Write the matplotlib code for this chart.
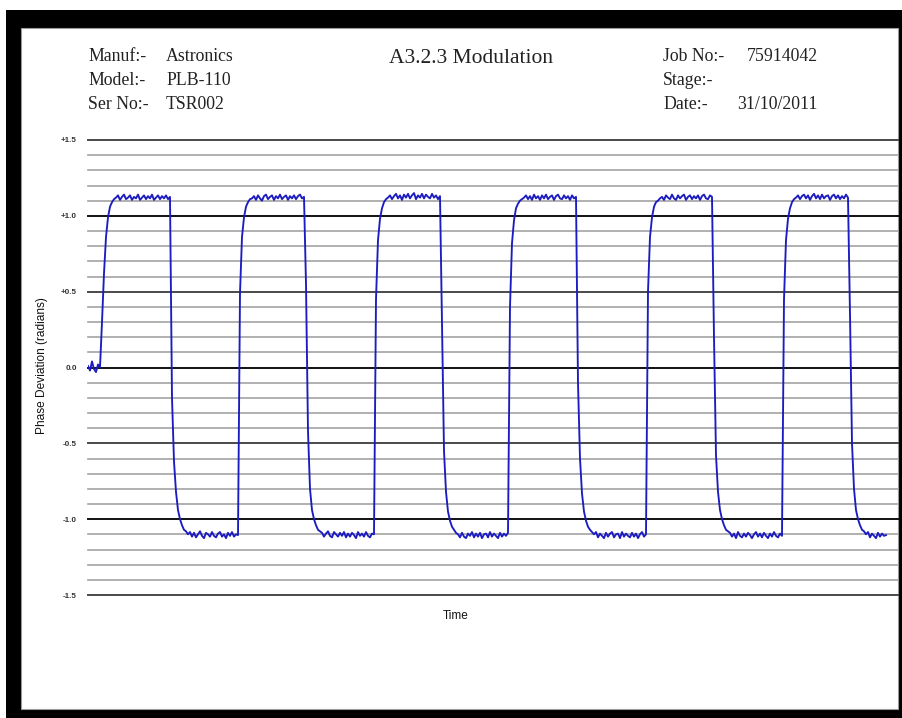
import numpy as np
import matplotlib
matplotlib.use("Agg")
import matplotlib.pyplot as plt
from matplotlib.patches import Rectangle

# ---------------------------------------------------------------------------
# Recorded phase deviation (radians), one value every 2 time units.
# ---------------------------------------------------------------------------
sample_spacing = 2.0

baseline = [0.01, -0.02, 0.04, -0.01, -0.03, 0.02, 0.00]

high_1 = [0.30, 0.62, 0.86, 0.99, 1.06, 1.09, 1.11,
          1.12, 1.135, 1.105, 1.125, 1.14, 1.11, 1.12, 1.135, 1.105, 1.125,
          1.115, 1.14, 1.105, 1.12, 1.135, 1.11, 1.13, 1.115, 1.14, 1.105,
          1.12, 1.135, 1.11, 1.13, 1.115, 1.135, 1.11, 1.125]
low_1 = [-0.20, -0.62, -0.82, -0.94, -1.00, -1.04, -1.07, -1.08,
         -1.10, -1.085, -1.115, -1.09, -1.12, -1.10, -1.08, -1.11, -1.125, -1.09,
         -1.10, -1.115, -1.085, -1.11, -1.12, -1.095, -1.085, -1.115, -1.10, -1.125,
         -1.09, -1.11, -1.085, -1.115, -1.10, -1.105]

high_2 = [0.49, 0.86, 0.99, 1.06, 1.09, 1.11, 1.115,
          1.13, 1.105, 1.135, 1.115, 1.10, 1.13, 1.14, 1.11, 1.125, 1.135,
          1.105, 1.13, 1.115, 1.14, 1.11, 1.125, 1.135, 1.105, 1.13, 1.115,
          1.135, 1.11, 1.13, 1.14, 1.115, 1.125]
low_2 = [0.55, -0.42, -0.80, -0.94, -1.00, -1.04, -1.07, -1.08,
         -1.09, -1.115, -1.095, -1.08, -1.11, -1.12, -1.085, -1.10, -1.115, -1.09,
         -1.11, -1.085, -1.12, -1.095, -1.115, -1.09, -1.105, -1.125, -1.085, -1.11,
         -1.095, -1.115, -1.085, -1.11, -1.12, -1.095, -1.10]

high_3 = [0.45, 0.84, 0.98, 1.05, 1.09, 1.11, 1.12,
          1.135, 1.11, 1.13, 1.145, 1.115, 1.135, 1.105, 1.14, 1.12, 1.145,
          1.115, 1.135, 1.15, 1.11, 1.135, 1.12, 1.145, 1.115, 1.14, 1.125,
          1.115, 1.145, 1.12, 1.135, 1.11, 1.13]
low_3 = [0.30, -0.55, -0.82, -0.95, -1.01, -1.05, -1.07, -1.09,
         -1.10, -1.12, -1.09, -1.115, -1.125, -1.095, -1.11, -1.085, -1.12, -1.095,
         -1.115, -1.09, -1.125, -1.10, -1.095, -1.12, -1.085, -1.115, -1.095, -1.11,
         -1.125, -1.09, -1.115, -1.095, -1.11, -1.09]

high_4 = [0.40, 0.82, 0.97, 1.05, 1.08, 1.10, 1.11,
          1.12, 1.135, 1.11, 1.13, 1.105, 1.14, 1.115, 1.13, 1.105, 1.135,
          1.115, 1.14, 1.11, 1.125, 1.135, 1.105, 1.13, 1.14, 1.115, 1.11,
          1.135, 1.115, 1.13, 1.105, 1.135, 1.115, 1.125]
low_4 = [-0.10, -0.60, -0.83, -0.95, -1.01, -1.05, -1.07, -1.085,
         -1.10, -1.085, -1.12, -1.095, -1.11, -1.125, -1.09, -1.115, -1.095, -1.085,
         -1.12, -1.10, -1.095, -1.125, -1.085, -1.115, -1.095, -1.11, -1.12, -1.09,
         -1.115, -1.095, -1.125, -1.10, -1.085, -1.115, -1.10]

high_5 = [0.50, 0.86, 0.99, 1.06, 1.09, 1.10, 1.115,
          1.125, 1.105, 1.135, 1.12, 1.11, 1.14, 1.115, 1.105, 1.135, 1.115,
          1.13, 1.14, 1.105, 1.125, 1.135, 1.11, 1.13, 1.115, 1.135, 1.105,
          1.13, 1.14, 1.115, 1.11, 1.135, 1.125]
low_5 = [0.20, -0.58, -0.82, -0.94, -1.00, -1.04, -1.07, -1.08,
         -1.09, -1.115, -1.095, -1.125, -1.085, -1.11, -1.12, -1.095, -1.115, -1.09,
         -1.105, -1.125, -1.10, -1.085, -1.115, -1.095, -1.12, -1.09, -1.11, -1.125,
         -1.095, -1.115, -1.085, -1.11, -1.12, -1.095, -1.11]

high_6 = [0.45, 0.84, 0.98, 1.05, 1.09, 1.11, 1.12,
          1.135, 1.11, 1.13, 1.14, 1.115, 1.135, 1.105, 1.13, 1.145, 1.115,
          1.135, 1.11, 1.14, 1.115, 1.13, 1.135, 1.105, 1.13, 1.14, 1.115,
          1.135, 1.11, 1.13, 1.115, 1.14, 1.12]
low_6 = [0.35, -0.50, -0.80, -0.94, -1.00, -1.04, -1.07, -1.08,
         -1.10, -1.085, -1.12, -1.095, -1.11, -1.125, -1.09, -1.115, -1.095, -1.11, -1.105]

# Axis levels and labels
major_levels = [1.5, 1.0, 0.5, 0.0, -0.5, -1.0, -1.5]
major_labels = ["+1.5", "+1.0", "+0.5", "0.0", "-0.5", "-1.0", "-1.5"]
minor_levels = [1.4, 1.3, 1.2, 1.1, 0.9, 0.8, 0.7, 0.6, 0.4, 0.3, 0.2, 0.1,
                -0.1, -0.2, -0.3, -0.4, -0.6, -0.7, -0.8, -0.9,
                -1.1, -1.2, -1.3, -1.4]

# Header block
title_text = "A3.2.3 Modulation"
left_keys = ["Manuf:-", "Model:-", "Ser No:-"]
left_vals = ["Astronics", "PLB-110", "TSR002"]
right_keys = ["Job No:-", "Stage:-", "Date:-"]
right_vals = ["75914042", "", "31/10/2011"]

# ---------------------------------------------------------------------------
W, H = 903, 718
fig = plt.figure(figsize=(W / 100, H / 100), dpi=100)
fig.patch.set_facecolor("white")


def fx(px):
    return px / W


def fy(py):
    return 1 - py / H


# black page frame
frame = dict(transform=fig.transFigure, facecolor="black", edgecolor="none", zorder=0)
fig.patches.append(Rectangle((fx(6), fy(718)), fx(897), (718 - 10) / H, **frame))
page = Rectangle((fx(21), fy(709)), (898 - 21) / W, (709 - 28) / H,
                 transform=fig.transFigure, facecolor="white",
                 edgecolor="#9a9a9a", linewidth=0.8, zorder=1)
fig.patches.append(page)

# plot area
ax = fig.add_axes([fx(88), fy(595), (898 - 88) / W, (595 - 140) / H])
ax.set_facecolor("none")
ax.set_zorder(2)
ax.set_xlim(0, 810)
ax.set_ylim(-1.5, 1.5)
for s in ax.spines.values():
    s.set_visible(False)

for lv in minor_levels:
    ax.axhline(lv, color="#a3a3a3", linewidth=1.2, zorder=1, clip_on=False)
for lv in major_levels:
    col = "#111111" if abs(lv) in (0.0, 1.0) else "#4a4a4a"
    ax.axhline(lv, color=col, linewidth=1.4, zorder=1.5, clip_on=False)

phase = np.array(baseline + high_1 + low_1 + high_2 + low_2 + high_3 + low_3
                 + high_4 + low_4 + high_5 + low_5 + high_6 + low_6)
time = np.arange(len(phase)) * sample_spacing
ax.plot(time, phase, color="#1c1cc0", linewidth=1.35, zorder=3,
        solid_joinstyle="round")

ax.set_xticks([])
ax.set_yticks(major_levels, labels=major_labels)
ax.tick_params(axis="y", length=0, pad=8, labelsize=5.8, labelcolor="#333333")
for lab in ax.get_yticklabels():
    lab.set_fontfamily("Liberation Sans")
    lab.set_fontweight("bold")

sans = "Liberation Sans"
serif = "Liberation Serif"
fig.text(fx(42), fy(366), "Phase Deviation (radians)", rotation=90,
         ha="center", va="center", fontsize=8.6, family=sans, color="#111111")
fig.text(fx(456), fy(616), "Time", ha="center", va="center",
         fontsize=8.5, family=sans, color="#111111")

# header
fig.text(fx(471.5), fy(63), title_text, ha="center", va="baseline",
         fontsize=15.5, family=serif, color="#222222")
rows = [61, 85, 109]
for y, k, v in zip(rows, left_keys, left_vals):
    fig.text(fx(88), fy(y), k, ha="left", va="baseline", fontsize=12.8,
             family=serif, color="#222222")
    fig.text(fx(166), fy(y), v, ha="left", va="baseline", fontsize=12.8,
             family=serif, color="#222222")
right_val_x = [747, 747, 737]
for y, k, v, vx in zip(rows, right_keys, right_vals, right_val_x):
    fig.text(fx(663), fy(y), k, ha="left", va="baseline", fontsize=12.8,
             family=serif, color="#222222")
    if v:
        fig.text(fx(vx), fy(y), v, ha="left", va="baseline", fontsize=12.8,
                 family=serif, color="#222222")

fig.savefig("out.png", dpi=100, facecolor="white")
